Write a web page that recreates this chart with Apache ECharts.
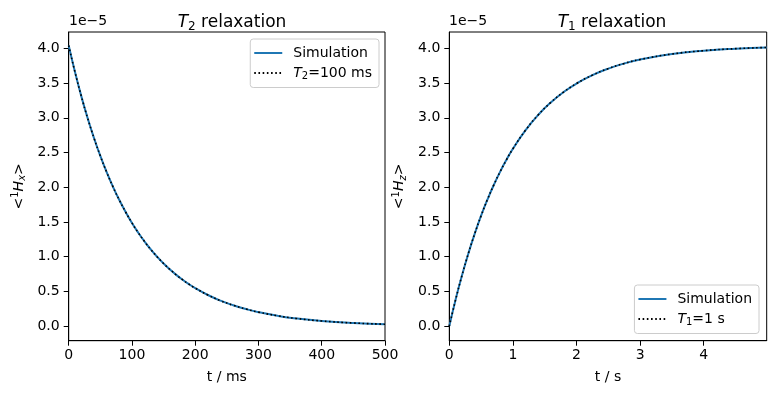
<!DOCTYPE html>
<html><head><meta charset="utf-8">
<script src="https://cdn.jsdelivr.net/npm/echarts@6/dist/echarts.min.js"></script>
<style>html,body{margin:0;padding:0;background:#fff}#c{width:775px;height:393px}</style>
</head><body><div id="c"></div>
<script>
// values in units of 1e-5
const t2Times = [0,10,20,30,40,50,60,70,80,90,100,110,120,130,140,150,160,170,180,190,200,220,240,260,280,300,330,360,400,450,500];
const t2Sim = [4.040,3.656,3.308,2.993,2.708,2.450,2.217,2.006,1.815,1.643,1.486,1.345,1.217,1.101,0.996,0.901,0.816,0.738,0.668,0.604,0.547,0.448,0.366,0.300,0.246,0.201,0.149,0.110,0.074,0.045,0.027];
const t2Fit = [4.040,3.656,3.308,2.993,2.708,2.450,2.217,2.006,1.815,1.643,1.486,1.345,1.217,1.101,0.996,0.901,0.816,0.738,0.668,0.604,0.547,0.448,0.366,0.300,0.246,0.201,0.149,0.110,0.074,0.045,0.027];
const t1Times = [0,0.1,0.2,0.3,0.4,0.5,0.6,0.7,0.8,0.9,1.0,1.2,1.4,1.6,1.8,2.0,2.25,2.5,2.75,3.0,3.5,4.0,4.5,4.99];
const t1Sim = [0,0.384,0.732,1.047,1.332,1.590,1.823,2.034,2.225,2.397,2.554,2.823,3.044,3.224,3.372,3.493,3.614,3.708,3.782,3.839,3.918,3.966,3.995,4.012];
const t1Fit = [0,0.384,0.732,1.047,1.332,1.590,1.823,2.034,2.225,2.397,2.554,2.823,3.044,3.224,3.372,3.493,3.614,3.708,3.782,3.839,3.918,3.966,3.995,4.012];
const yTicks = [0,0.5,1.0,1.5,2.0,2.5,3.0,3.5,4.0];
const xTicksLeft = [0,100,200,300,400,500];
const xTicksRight = [0,1,2,3,4];

const FONT = 'DejaVu Sans';
const TXT = '#000';
const zip = (a,b)=>a.map((v,i)=>[v,b[i]]);
const richSub = {
  i:{fontStyle:'italic',fontFamily:FONT,fontSize:14,color:TXT},
  s:{fontFamily:FONT,fontSize:10,color:TXT,padding:[7,0,0,0]},
  ti:{fontStyle:'italic',fontFamily:FONT,fontSize:17,color:TXT},
  ts:{fontFamily:FONT,fontSize:12,color:TXT,padding:[8,0,0,0]}
};
function xAxis(gi,max,ticks,name){
  return {type:'value',gridIndex:gi,min:0,max:max,
    name:name,nameLocation:'middle',nameGap:30,
    nameTextStyle:{fontFamily:FONT,fontSize:14,color:TXT},
    axisLine:{show:true,onZero:false,lineStyle:{color:'#000',width:1}},
    axisTick:{show:true,inside:false,length:5,customValues:ticks,lineStyle:{color:'#000'}},
    axisLabel:{customValues:ticks,margin:8,fontFamily:FONT,fontSize:14,color:TXT,
      formatter:v=>String(v)},
    splitLine:{show:false}};
}
function yAxis(gi,nameRich){
  return {type:'value',gridIndex:gi,min:-0.21,max:4.235,
    name:nameRich,nameLocation:'middle',nameGap:41,
    nameTextStyle:{fontFamily:FONT,fontSize:14,color:TXT,rich:{
      i:{fontStyle:'italic',fontFamily:FONT,fontSize:14,color:TXT},
      s:{fontStyle:'italic',fontFamily:FONT,fontSize:10,color:TXT,padding:[7,0,0,0]},
      sup:{fontFamily:FONT,fontSize:10,color:TXT,padding:[0,0,7,0]}}},
    axisLine:{show:true,onZero:false,lineStyle:{color:'#000',width:1}},
    axisTick:{show:true,inside:false,length:5,customValues:yTicks,lineStyle:{color:'#000'}},
    axisLabel:{customValues:yTicks,margin:9,fontFamily:FONT,fontSize:14,color:TXT,
      formatter:v=>v.toFixed(1)},
    splitLine:{show:false}};
}
const legendBase = {
  orient:'vertical',itemWidth:28,itemHeight:14,itemGap:6,
  padding:[7,7,6,3],borderColor:'#cccccc',borderWidth:1,borderRadius:3,
  backgroundColor:'rgba(255,255,255,0.8)',
  itemStyle:{opacity:0},
  textStyle:{fontFamily:FONT,fontSize:14,color:TXT,padding:[0,0,0,6],rich:richSub},
  formatter:n=>n.replace(/^T(\d)/,'{i|T}{s|$1}'),
  selectedMode:false
};
const chart = echarts.init(document.getElementById('c'),null,{renderer:'canvas'});
const simStyle = {color:'#1f77b4',width:2};
const fitStyle = {color:'#000',width:1.6,type:[1.6,2.6]};
chart.setOption({
  animation:false,
  textStyle:{fontFamily:FONT},
  title:[
    {text:'{ti|T}{ts|2} relaxation',left:227,top:8,textAlign:'center',
     textStyle:{fontFamily:FONT,fontSize:17,fontWeight:'normal',color:TXT,rich:richSub}},
    {text:'{ti|T}{ts|1} relaxation',left:607,top:8,textAlign:'center',
     textStyle:{fontFamily:FONT,fontSize:17,fontWeight:'normal',color:TXT,rich:richSub}}
  ],
  grid:[
    {left:68.7,width:316.3,top:32,height:308.7,show:true,borderColor:'#000',borderWidth:1,containLabel:false},
    {left:449.3,width:317.4,top:32,height:308.7,show:true,borderColor:'#000',borderWidth:1,containLabel:false}
  ],
  xAxis:[xAxis(0,500,xTicksLeft,'t / ms'),xAxis(1,4.99,xTicksRight,'t / s')],
  yAxis:[yAxis(0,'<{sup|1}{i|H}{s|x}>'),yAxis(1,'<{sup|1}{i|H}{s|z}>')],
  legend:[
    Object.assign({},legendBase,{data:['Simulation','T2=100 ms'],right:396,top:39}),
    Object.assign({},legendBase,{data:['Simulation','T1=1 s'],right:16,top:285})
  ],
  graphic:[
    {type:'text',left:69,top:14,style:{text:'1e\u22125',font:'14px "DejaVu Sans"',fill:TXT}},
    {type:'text',left:449,top:14,style:{text:'1e\u22125',font:'14px "DejaVu Sans"',fill:TXT}}
  ],
  series:[
    {name:'Simulation',type:'line',xAxisIndex:0,yAxisIndex:0,data:zip(t2Times,t2Sim),symbol:'none',smooth:true,lineStyle:simStyle,color:'#1f77b4',z:2},
    {name:'T2=100 ms',type:'line',xAxisIndex:0,yAxisIndex:0,data:zip(t2Times,t2Fit),symbol:'none',smooth:true,lineStyle:fitStyle,color:'#000',z:3},
    {name:'Simulation',type:'line',xAxisIndex:1,yAxisIndex:1,data:zip(t1Times,t1Sim),symbol:'none',smooth:true,lineStyle:simStyle,color:'#1f77b4',z:2},
    {name:'T1=1 s',type:'line',xAxisIndex:1,yAxisIndex:1,data:zip(t1Times,t1Fit),symbol:'none',smooth:true,lineStyle:fitStyle,color:'#000',z:3}
  ]
});
</script></body></html>
